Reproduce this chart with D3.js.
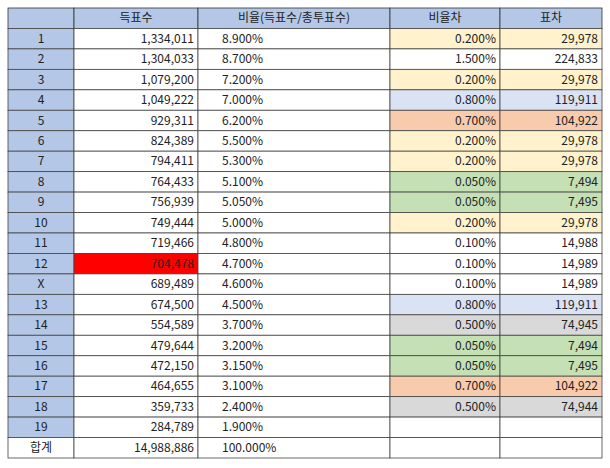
<!DOCTYPE html>
<html><head><meta charset="utf-8">
<script src="https://cdn.jsdelivr.net/npm/d3@7"></script>
<style>body{margin:0;background:#fff}</style>
</head><body>
<svg id="chart" width="610" height="468"></svg>
<script>
const headers = ['', '득표수', '비율(득표수/총투표수)', '비율차', '표차'];
const labels = ['1','2','3','4','5','6','7','8','9','10','11','12','X','13','14','15','16','17','18','19','합계'];
const votes = ['1,334,011','1,304,033','1,079,200','1,049,222','929,311','824,389','794,411','764,433','756,939','749,444','719,466','704,478','689,489','674,500','554,589','479,644','472,150','464,655','359,733','284,789','14,988,886'];
const ratios = ['8.900%','8.700%','7.200%','7.000%','6.200%','5.500%','5.300%','5.100%','5.050%','5.000%','4.800%','4.700%','4.600%','4.500%','3.700%','3.200%','3.150%','3.100%','2.400%','1.900%','100.000%'];
const ratioDiff = ['0.200%','1.500%','0.200%','0.800%','0.700%','0.200%','0.200%','0.050%','0.050%','0.200%','0.100%','0.100%','0.100%','0.800%','0.500%','0.050%','0.050%','0.700%','0.500%','',''];
const voteDiff = ['29,978','224,833','29,978','119,911','104,922','29,978','29,978','7,494','7,495','29,978','14,988','14,989','14,989','119,911','74,945','7,494','7,495','104,922','74,944','',''];
// highlight group per row: y yellow, b blue, o orange, g green, s gray, '' none
const diffGroup = ['y','','y','b','o','y','y','g','g','y','','','','b','s','g','g','o','s','',''];
const redRow = '12';

const fills = {y:'#fff2cc', b:'#dae3f3', o:'#f8cbad', g:'#c5e0b4', s:'#d9d9d9', '':'#ffffff'};
const svg = d3.select('#chart');
const font = "'Noto Sans CJK KR', 'Noto Sans', sans-serif";

const colEdges = [8, 74, 198, 390, 500, 602];
const x = i => colEdges[i];
const y = d3.scaleBand().domain(d3.range(labels.length + 1)).range([8, 458]);
const h = y.bandwidth();

// header
headers.forEach((t, i) => {
  svg.append('rect').attr('x', x(i)).attr('y', y(0)).attr('width', x(i+1)-x(i)).attr('height', h)
    .attr('fill', '#b4c7e7').attr('stroke', '#333').attr('stroke-width', 0.8);
  svg.append('text').attr('x', (x(i)+x(i+1))/2).attr('y', y(0)+h/2+4).attr('text-anchor','middle')
    .attr('font-family', font).attr('font-size', 12).attr('fill', '#222').text(t);
});

labels.forEach((lab, r) => {
  const yy = y(r+1);
  const last = r === labels.length - 1;
  const cells = [
    {t: lab, fill: last ? '#fff' : '#b4c7e7', anchor:'middle'},
    {t: votes[r], fill: lab === redRow ? '#ff0000' : '#fff', anchor:'end'},
    {t: ratios[r], fill:'#fff', anchor:'start'},
    {t: ratioDiff[r], fill: fills[diffGroup[r]], anchor:'end'},
    {t: voteDiff[r], fill: fills[diffGroup[r]], anchor:'end'}
  ];
  cells.forEach((c, i) => {
    svg.append('rect').attr('x', x(i)).attr('y', yy).attr('width', x(i+1)-x(i)).attr('height', h)
      .attr('fill', c.fill).attr('stroke', '#444').attr('stroke-width', 0.8);
    const tx = c.anchor === 'middle' ? (x(i)+x(i+1))/2 : c.anchor === 'end' ? x(i+1)-4 : x(i)+24;
    svg.append('text').attr('x', tx).attr('y', yy+h/2+4).attr('text-anchor', c.anchor)
      .attr('font-family', font).attr('font-size', 12).attr('fill', '#222').text(c.t);
  });
});
</script>
</body></html>
